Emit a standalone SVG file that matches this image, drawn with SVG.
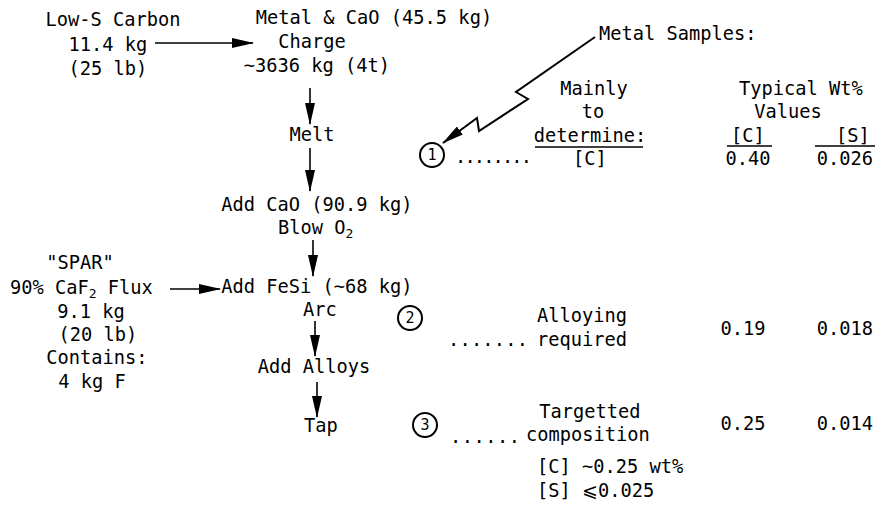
<svg xmlns="http://www.w3.org/2000/svg" width="877" height="508" viewBox="0 0 877 508">
<defs>
<style>
.t{font-family:"DejaVu Sans Mono","Liberation Mono",monospace;font-size:18.7px;fill:#000}
.m{text-anchor:middle}
.n{font-family:"DejaVu Sans Mono","Liberation Mono",monospace;font-size:15px;fill:#000;text-anchor:middle}
.sub{font-size:13px}
.ln{stroke:#000;stroke-width:1.6;fill:none}
.ar{stroke:#000;stroke-width:1.6;fill:none;marker-end:url(#ah)}
.bolt{stroke:#000;stroke-width:2;fill:none;stroke-linejoin:miter;marker-end:url(#ah)}
.c{stroke:#000;stroke-width:2;fill:none}
</style>
<marker id="ah" markerUnits="userSpaceOnUse" markerWidth="22" markerHeight="10" refX="21" refY="5" orient="auto">
<path d="M0,0 L22,5 L0,10 z" fill="#000"/>
</marker>
</defs>
<rect width="877" height="508" fill="#fff"/>

<g id="connectors">
<line class="ar" x1="155" y1="43" x2="253" y2="43"/>
<line class="ar" x1="310" y1="88" x2="310" y2="124"/>
<line class="ar" x1="310" y1="148" x2="310" y2="191"/>
<line class="ar" x1="313" y1="240" x2="313" y2="276"/>
<line class="ar" x1="170" y1="289" x2="220" y2="289"/>
<line class="ar" x1="315" y1="321" x2="315" y2="356"/>
<line class="ar" x1="317" y1="382" x2="317" y2="417"/>
<polyline class="bolt" points="595,37 516,92 528,99 479,131 477,118 443,143"/>
</g>

<g id="carbon">
<text class="t m" x="113" y="26">Low-S Carbon</text>
<text class="t m" x="108" y="51">11.4 kg</text>
<text class="t m" x="108" y="75">(25 lb)</text>
</g>

<g id="charge">
<text class="t m" x="374" y="24">Metal &amp; CaO (45.5 kg)</text>
<text class="t m" x="312" y="48">Charge</text>
<text class="t m" x="317" y="72">~3636 kg (4t)</text>
</g>

<g id="melt">
<text class="t m" x="312" y="141">Melt</text>
</g>

<g id="addcao">
<text class="t m" x="317" y="211">Add CaO (90.9 kg)</text>
<text class="t" x="278" y="234">Blow O<tspan class="sub" dy="4">2</tspan></text>
</g>

<g id="spar">
<text class="t m" x="80" y="269">"SPAR"</text>
<text class="t" x="10" y="294">90% CaF<tspan class="sub" dy="4">2</tspan><tspan dy="-4"> Flux</tspan></text>
<text class="t m" x="91" y="318">9.1 kg</text>
<text class="t m" x="98" y="341">(20 lb)</text>
<text class="t m" x="97" y="364">Contains:</text>
<text class="t m" x="92" y="388">4 kg F</text>
</g>

<g id="addfesi">
<text class="t m" x="317" y="293">Add FeSi (~68 kg)</text>
<text class="t m" x="320" y="316">Arc</text>
</g>

<g id="addalloys">
<text class="t m" x="314" y="373">Add Alloys</text>
</g>

<g id="tap">
<text class="t m" x="321" y="432">Tap</text>
</g>

<g id="samples">
<text class="t" x="599" y="40">Metal Samples:</text>
<text class="t m" x="594" y="95">Mainly</text>
<text class="t m" x="593" y="118">to</text>
<text class="t m" x="590" y="142">determine:</text>
<line class="ln" x1="535" y1="147" x2="643" y2="147"/>
<text class="t m" x="590" y="165">[C]</text>
<text class="t m" x="801" y="95">Typical Wt%</text>
<text class="t m" x="788" y="118">Values</text>
<text class="t m" x="748" y="142">[C]</text>
<line class="ln" x1="727" y1="146" x2="772" y2="146"/>
<text class="t m" x="748" y="165">0.40</text>
<text class="t m" x="853" y="142">[S]</text>
<line class="ln" x1="815" y1="146" x2="875" y2="146"/>
<text class="t m" x="845" y="165">0.026</text>
</g>

<g id="sample1">
<circle class="c" cx="432" cy="155" r="12"/>
<text class="n" x="432" y="160">1</text>
<text class="t" x="455" y="163" textLength="77" lengthAdjust="spacing">........</text>
</g>

<g id="sample2">
<circle class="c" cx="410" cy="318" r="12"/>
<text class="n" x="410" y="323">2</text>
<text class="t" x="448" y="346" textLength="80" lengthAdjust="spacing">.......</text>
<text class="t m" x="582" y="322">Alloying</text>
<text class="t m" x="582" y="346">required</text>
<text class="t m" x="743" y="335">0.19</text>
<text class="t m" x="845" y="335">0.018</text>
</g>

<g id="sample3">
<circle class="c" cx="425" cy="425" r="12"/>
<text class="n" x="425" y="430">3</text>
<text class="t" x="450" y="443" textLength="70" lengthAdjust="spacing">......</text>
<text class="t m" x="590" y="418">Targetted</text>
<text class="t m" x="588" y="441">composition</text>
<text class="t m" x="743" y="430">0.25</text>
<text class="t m" x="845" y="430">0.014</text>
<text class="t" x="537" y="473">[C] ~0.25 wt%</text>
<text class="t" x="537" y="497">[S] ⩽0.025</text>
</g>
</svg>
